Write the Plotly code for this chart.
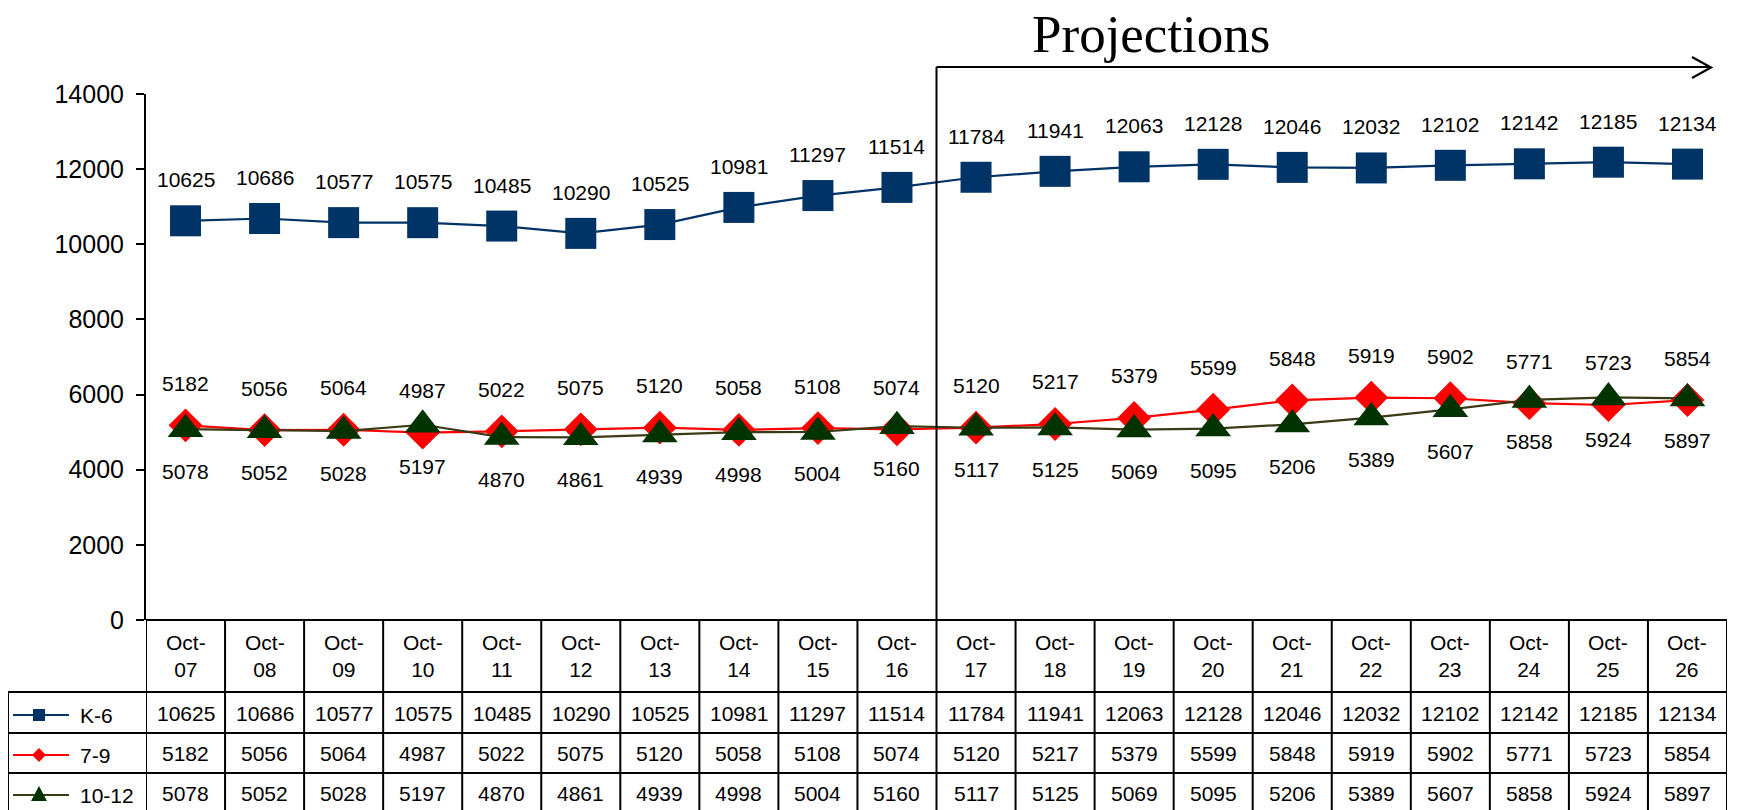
import plotly.graph_objects as go

# ---------------- data ----------------
categories = ["Oct-07", "Oct-08", "Oct-09", "Oct-10", "Oct-11", "Oct-12", "Oct-13",
              "Oct-14", "Oct-15", "Oct-16", "Oct-17", "Oct-18", "Oct-19", "Oct-20",
              "Oct-21", "Oct-22", "Oct-23", "Oct-24", "Oct-25", "Oct-26"]
k6 = [10625, 10686, 10577, 10575, 10485, 10290, 10525, 10981, 11297, 11514,
      11784, 11941, 12063, 12128, 12046, 12032, 12102, 12142, 12185, 12134]
g7_9 = [5182, 5056, 5064, 4987, 5022, 5075, 5120, 5058, 5108, 5074,
        5120, 5217, 5379, 5599, 5848, 5919, 5902, 5771, 5723, 5854]
g10_12 = [5078, 5052, 5028, 5197, 4870, 4861, 4939, 4998, 5004, 5160,
          5117, 5125, 5069, 5095, 5206, 5389, 5607, 5858, 5924, 5897]
series_names = ["K-6", "7-9", "10-12"]
y_ticks = [0, 2000, 4000, 6000, 8000, 10000, 12000, 14000]
projection_label = "Projections"
projection_start_index = 10  # first projected year (Oct-17)

# ---------------- styles ----------------
W, H = 1740, 810
OFF = 8  # page body margin offset
L, R, T, B = 146, 1727, 94, 620  # plot area in screen pixels
FONT = "Liberation Sans"
FS = 21
colors_line = ["#003366", "#FF0000", "#3a3a16"]
colors_marker = ["#003366", "#FF0000", "#003300"]
symbols = ["square", "diamond", "triangle-up"]
sizes = [31, 26, 31]
label_shift = [41, 42, -42]
series = [k6, g7_9, g10_12]


def xp(px):
    return (px - L) / (R - L)


def yp(py):
    return (B - py) / (B - T)


fig = go.Figure()

for name, vals, lc, mc, sym, sz in zip(series_names, series, colors_line,
                                       colors_marker, symbols, sizes):
    fig.add_trace(go.Scatter(
        x=categories, y=vals, name=name, mode="lines+markers",
        line=dict(color=lc, width=2.2),
        marker=dict(symbol=sym, size=sz, color=mc, line=dict(width=0)),
        cliponaxis=False, showlegend=False, hoverinfo="x+y+name"))

annotations = []
# data labels
for vals, sh in zip(series, label_shift):
    for c, v in zip(categories, vals):
        annotations.append(dict(x=c, y=v, xref="x", yref="y", text=str(v),
                                showarrow=False, yanchor="middle", yshift=sh,
                                font=dict(family=FONT, size=FS, color="black")))

# table header (category labels)
for c in categories:
    mon, yr = c.split("-")
    annotations.append(dict(x=c, y=yp(656), xref="x", yref="paper",
                            text=f"{mon}-<br>{yr}", showarrow=False,
                            yanchor="middle",
                            font=dict(family=FONT, size=FS, color="black")))

row_centers = [713, 753, 793]
# table values
for vals, rc in zip(series, row_centers):
    for c, v in zip(categories, vals):
        annotations.append(dict(x=c, y=yp(rc), xref="x", yref="paper",
                                text=str(v), showarrow=False, yanchor="middle",
                                font=dict(family=FONT, size=FS, color="black")))

# legend texts
for name, rc in zip(series_names, row_centers):
    annotations.append(dict(x=xp(78), y=yp(rc + 2), xref="paper", yref="paper",
                            text=name, showarrow=False, xanchor="left",
                            yanchor="middle",
                            font=dict(family=FONT, size=FS, color="black")))

# Projections title
annotations.append(dict(x=xp(1151), y=yp(34), xref="paper", yref="paper",
                        text=projection_label, showarrow=False,
                        xanchor="center", yanchor="middle",
                        font=dict(family="Liberation Serif", size=53,
                                  color="black")))

shapes = []
line_style = dict(color="black", width=2)
n = len(categories)
# column boundaries of table
for k in range(n + 1):
    shapes.append(dict(type="line", xref="x", yref="paper",
                       x0=k - 0.5, x1=k - 0.5, y0=yp(620), y1=yp(830),
                       line=line_style))
# horizontal table lines
shapes.append(dict(type="line", xref="paper", yref="paper", x0=0, x1=1,
                   y0=yp(620), y1=yp(620), line=line_style))
for py in [692, 733, 773]:
    shapes.append(dict(type="line", xref="paper", yref="paper", x0=xp(8),
                       x1=1, y0=yp(py), y1=yp(py), line=line_style))
shapes.append(dict(type="line", xref="paper", yref="paper", x0=xp(8),
                   x1=xp(8), y0=yp(692), y1=yp(830), line=line_style))

# legend samples (line + marker)
for i, (lc, mc, rc) in enumerate(zip(colors_line, colors_marker, row_centers)):
    cy = rc + 2
    shapes.append(dict(type="line", xref="paper", yref="paper", x0=xp(13),
                       x1=xp(69), y0=yp(cy), y1=yp(cy),
                       line=dict(color=lc, width=2.2)))
    cx = 39
    if symbols[i] == "square":
        pts = [(cx - 6, cy - 6), (cx + 6, cy - 6), (cx + 6, cy + 6), (cx - 6, cy + 6)]
    elif symbols[i] == "diamond":
        pts = [(cx, cy - 7), (cx + 7, cy), (cx, cy + 7), (cx - 7, cy)]
    else:
        pts = [(cx, cy - 9), (cx + 8, cy + 6), (cx - 8, cy + 6)]
    path = "M " + " L ".join(f"{xp(a)},{yp(b)}" for a, b in pts) + " Z"
    shapes.append(dict(type="path", xref="paper", yref="paper", path=path,
                       fillcolor=mc, line=dict(width=0)))

# projections marker: vertical line + arrow
px_split = projection_start_index - 0.5
shapes.append(dict(type="line", xref="x", yref="paper", x0=px_split,
                   x1=px_split, y0=0, y1=yp(67), line=line_style))
shapes.append(dict(type="line", xref="paper", yref="paper",
                   x0=(px_split + 0.5) / n, x1=xp(1710), y0=yp(67),
                   y1=yp(67), line=line_style))
shapes.append(dict(type="path", xref="paper", yref="paper",
                   path=(f"M {xp(1692)},{yp(57)} L {xp(1711)},{yp(67.5)} "
                         f"L {xp(1692)},{yp(78)}"),
                   line=dict(color="black", width=2.2)))

fig.update_layout(
    width=W, height=H,
    margin=dict(l=L - OFF, r=W - (R - OFF), t=T - OFF, b=H - (B - OFF), pad=0),
    paper_bgcolor="white", plot_bgcolor="white",
    showlegend=False,
    xaxis=dict(type="category", range=[-0.5, n - 0.5], showticklabels=False,
               showgrid=False, zeroline=False, showline=False, ticks=""),
    yaxis=dict(range=[0, 14000], tickvals=y_ticks, tickformat="d",
               showgrid=False, zeroline=False, showline=True,
               linecolor="black", linewidth=2,
               ticks="outside", ticklen=8, tickwidth=2, tickcolor="black",
               ticklabelstandoff=7,
               tickfont=dict(family=FONT, size=25, color="black")),
    annotations=annotations,
    shapes=shapes,
)

fig.write_html("out.html")
